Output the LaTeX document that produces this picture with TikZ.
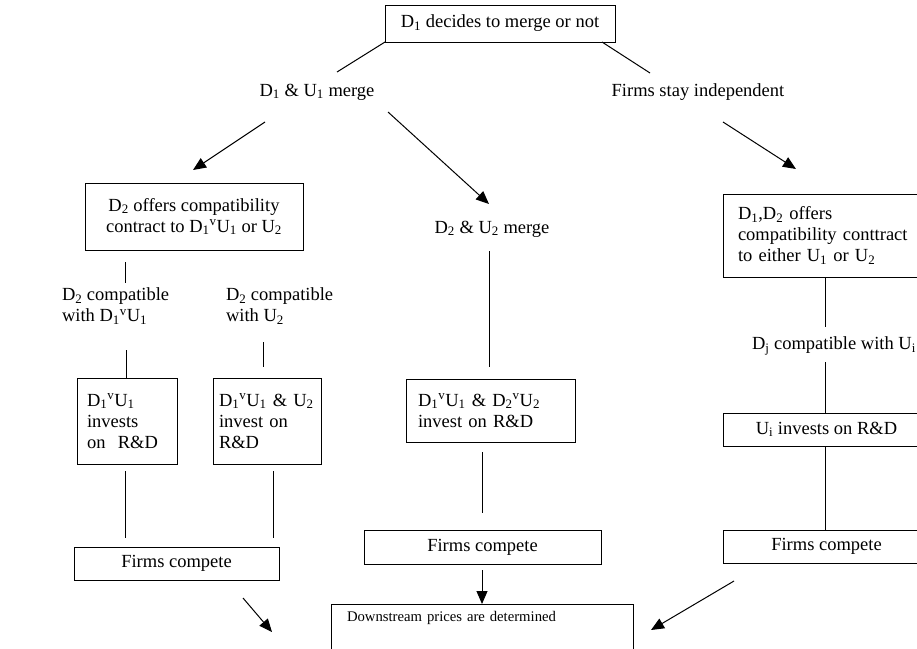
\documentclass[tikz,border=0pt]{standalone}
\usepackage{fontspec}
\setmainfont{Liberation Serif}
\usetikzlibrary{arrows.meta}
\newcommand{\sbs}[1]{\textsubscript{#1}}
\newcommand{\sps}[1]{\textsuperscript{#1}}
\begin{document}
\begin{tikzpicture}[x=1pt,y=-1pt, line width=1pt,
  every node/.style={font=\fontsize{18.5}{21}\selectfont, inner sep=0pt, outer sep=0pt},
  box/.style={draw, anchor=north west},
  lbl/.style={align=left},
  arr/.style={-{Triangle[length=13pt,width=11pt]}},
  small/.style={font=\fontsize{14.7}{17}\selectfont}
  ]
\useasboundingbox (0,0) rectangle (917,648);
\clip (0,0) rectangle (917,648);

% top
\node[box, minimum width=230, minimum height=37] (top) at (385,5) {D\sbs{1} decides to merge or not};
\node (m1) at (317,92) {D\sbs{1} \& U\sbs{1} merge};
\node (ind) at (698,92) {Firms stay independent};

% left branch
\node[box, minimum width=218, minimum height=67, align=center] (A) at (85,183)
  {D\sbs{2} offers compatibility\\contract to D\sbs{1}\sps{v}U\sbs{1} or U\sbs{2}};
\node[anchor=north west, lbl] (c1) at (62,288) {D\sbs{2} compatible\\with D\sbs{1}\sps{v}U\sbs{1}};
\node[anchor=north west, lbl] (c2) at (226,288) {D\sbs{2} compatible\\with U\sbs{2}};
\node[box, minimum width=100, minimum height=86, text width=80, lbl] (b1) at (77,378)
  {D\sbs{1}\sps{v}U\sbs{1}\\invests\\on~~R\&D};
\node[box, minimum width=108, minimum height=86, text width=96, lbl] (b2) at (213,378)
  {D\sbs{1}\sps{v}U\sbs{1} \& U\sbs{2}\\invest on\\R\&D};
\node[box, minimum width=205, minimum height=33] (f1) at (74,547) {Firms compete};

% middle branch
\node (m2) at (492,229) {D\sbs{2} \& U\sbs{2} merge};
\node[box, minimum width=169, minimum height=63, text width=145, lbl] (b3) at (406,379)
  {D\sbs{1}\sps{v}U\sbs{1} \& D\sbs{2}\sps{v}U\sbs{2}\\invest on R\&D};
\node[box, minimum width=237, minimum height=34] (f2) at (364,530) {Firms compete};
\node[box, small, minimum width=302, minimum height=48, text width=270, align=left, text height=12, text depth=25] (ds) at (331,604)
  {Downstream prices are determined};

% right branch
\node[box, minimum width=207, minimum height=83, text width=177, lbl] (R1) at (723,194)
  {D\sbs{1},D\sbs{2} offers\\compatibility conttract\\to either U\sbs{1} or U\sbs{2}};
\node[anchor=west] (cj) at (752,346) {D\sbs{j} compatible with U\sbs{i}};
\node[box, minimum width=207, minimum height=33] (R2) at (723,413) {U\sbs{i} invests on R\&D};
\node[box, minimum width=207, minimum height=33] (R3) at (723,530) {Firms compete};

% coordinates for free ends
\coordinate (p1) at (337,72);
\coordinate (p2s) at (602,42);
\coordinate (p2e) at (650,73);
\coordinate (a1s) at (265,122);
\coordinate (a1e) at (193,170);
\coordinate (a2s) at (388,112);
\coordinate (a2e) at (489,204);
\coordinate (a3s) at (723,122);
\coordinate (a3e) at (796,169);
\coordinate (v1s) at (125,262);
\coordinate (v1e) at (125,283);
\coordinate (v2s) at (126,350);
\coordinate (v3s) at (263,342);
\coordinate (v3e) at (263,367);
\coordinate (v4s) at (125,471);
\coordinate (v4e) at (125,538);
\coordinate (v5s) at (273,471);
\coordinate (v5e) at (273,538);
\coordinate (v6s) at (489,251);
\coordinate (v6e) at (489,367);
\coordinate (v7s) at (482,452);
\coordinate (v7e) at (482,513);
\coordinate (a4s) at (482,570);
\coordinate (a5s) at (243,598);
\coordinate (a5e) at (272,632);
\coordinate (a6s) at (734,581);
\coordinate (a6e) at (651,630);
\coordinate (v8e) at (825,327);
\coordinate (v9s) at (825,362);

% connectors
\draw (top.south west) -- (p1);
\draw (p2s) -- (p2e);
\draw[arr] (a1s) -- (a1e);
\draw[arr] (a2s) -- (a2e);
\draw[arr] (a3s) -- (a3e);
\draw (v1s) -- (v1e);
\draw (v2s) -- (v2s |- b1.north);
\draw (v3s) -- (v3e);
\draw (v4s) -- (v4e);
\draw (v5s) -- (v5e);
\draw (v6s) -- (v6e);
\draw (v7s) -- (v7e);
\draw[arr] (a4s) -- (ds.north);
\draw[arr] (a5s) -- (a5e);
\draw[arr] (a6s) -- (a6e);
\draw (v8e |- R1.south) -- (v8e);
\draw (v9s) -- (v9s |- R2.north);
\draw (v9s |- R2.south) -- (v9s |- R3.north);
\end{tikzpicture}
\end{document}
